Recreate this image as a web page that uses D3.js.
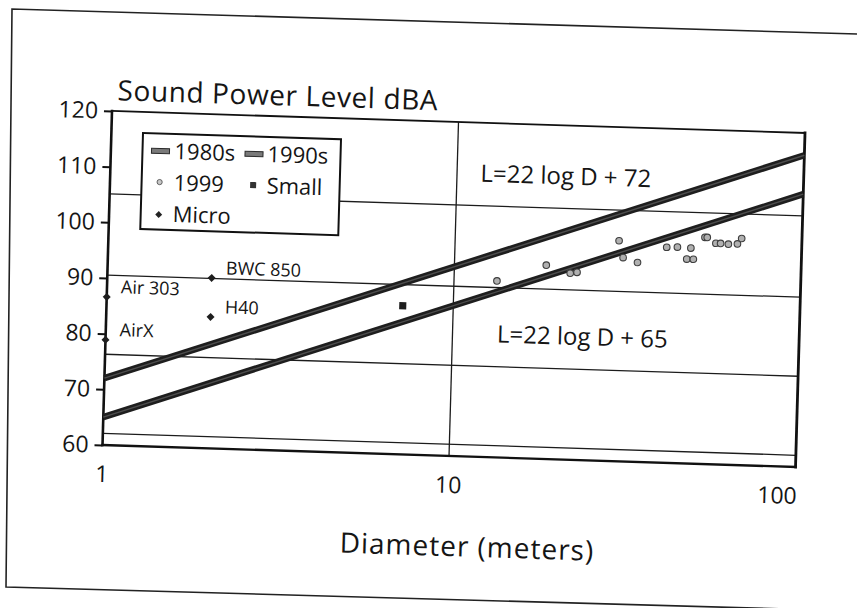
<!DOCTYPE html>
<meta charset="utf-8">
<style>

body { margin: 0; background: #fff; }

.chart text {
  font-family: "Open Sans", sans-serif;
  fill: #151515;
}

.grid line {
  stroke: #1c1c1c;
  stroke-width: 1.3;
}

.axis path.domain { display: none; }

.axis line {
  stroke: #111;
  stroke-width: 2;
}

.axis text {
  font: 23px "Open Sans", sans-serif;
}

</style>

<svg class="chart"></svg>

<script src="https://cdn.jsdelivr.net/npm/d3@7"></script>

<script>

// values
var yTicks = [60, 70, 80, 90, 100, 110, 120];
var xTicks = [1, 10, 100];
var gridValues = [62.1, 76.3, 90.5, 105.1];

var trendD = [1, 100];
var trend1980s = [72, 116];
var trend1990s = [65, 109];

var d1999 = [13.3, 18.4, 21.6, 22.6, 29.7, 30.6, 33.7, 40.8, 43.8, 47.9, 46.7, 48.8, 52.5, 53.3, 56.5, 58.3, 61.4, 65.2, 67.0];
var l1999 = [91.7, 94.8, 93.5, 93.7, 99.6, 96.6, 95.8, 98.7, 98.8, 98.7, 96.7, 96.7, 100.7, 100.7, 99.7, 99.7, 99.6, 99.7, 100.7];

var smallD = [7.15];
var smallL = [86.7];

var microNames = ["AirX", "Air 303", "H40", "BWC 850"];
var microD = [1, 1, 2, 2];
var microL = [78.9, 86.6, 83.6, 90.6];

var eqLabels = ["L=22 log D + 72", "L=22 log D + 65"];

var W = 693, H = 334;

var svg = d3.select(".chart")
	.attr("width", 857)
	.attr("height", 608)

svg.append("rect")
	.attr("width", 857)
	.attr("height", 608)
	.attr("fill", "#fff")

// outer page frame of the scan
svg.append("path")
	.attr("d", "M857,34L12,9L6,587L857,611")
	.attr("fill", "none")
	.attr("stroke", "#222")
	.attr("stroke-width", 1.6)

// the scan is slightly skewed, so the whole plot sits in a tilted group
var chart = svg.append("g")
	.attr("transform", "matrix(1,0.0317,-0.0284,1,112,111)")

var x = d3.scaleLog()
	.domain([1, 100])
	.range([0, W])

var y = d3.scaleLinear()
	.domain([60, 120])
	.range([H, 0])

var grid = chart.append("g").attr("class", "grid")

grid.selectAll(".h")
	.data(gridValues)
  .enter().append("line")
	.attr("class", "h")
	.attr("x1", 0).attr("x2", W)
	.attr("y1", function(d) { return y(d); })
	.attr("y2", function(d) { return y(d); })

grid.append("line")
	.attr("x1", x(10)).attr("x2", x(10))
	.attr("y1", 0).attr("y2", H)

// plot frame
function edge(x1, y1, x2, y2, w) {
	chart.append("line")
		.attr("x1", x1).attr("y1", y1).attr("x2", x2).attr("y2", y2)
		.attr("stroke", "#111")
		.attr("stroke-width", w)
		.attr("stroke-linecap", "square")
}
edge(0, 0, W, 0, 1.8)
edge(W, 0, W, H, 2.8)
edge(0, H, W, H, 2.4)
edge(0, 0, 0, H, 2.6)

var yAxis = d3.axisLeft(y)
	.tickValues(yTicks)
	.tickSize(8)
	.tickPadding(6)

chart.append("g")
	.attr("class", "y axis")
	.call(yAxis)

chart.append("g")
	.attr("class", "x axis")
	.selectAll("text")
	.data(xTicks)
  .enter().append("text")
	.attr("x", function(d, i) { return i == xTicks.length - 1 ? x(d) + 2 : x(d); })
	.attr("y", H + 37)
	.attr("text-anchor", function(d, i) { return i == xTicks.length - 1 ? "end" : "middle"; })
	.text(function(d) { return d; })

// trend lines
var line = d3.line()
	.x(function(d) { return x(d[0]); })
	.y(function(d) { return y(d[1]); })

;[trend1980s, trend1990s].forEach(function(vals) {
	var pts = trendD.map(function(d, i) { return [d, vals[i]]; });
	chart.append("path")
		.attr("d", line(pts))
		.attr("fill", "none")
		.attr("stroke", "#1e1e1e")
		.attr("stroke-width", 6.5)
	chart.append("path")
		.attr("d", line(pts))
		.attr("fill", "none")
		.attr("stroke", "#4e4e4e")
		.attr("stroke-width", 1.4)
})

// 1999 turbines
chart.selectAll(".p1999")
	.data(d1999)
  .enter().append("circle")
	.attr("class", "p1999")
	.attr("cx", function(d) { return x(d); })
	.attr("cy", function(d, i) { return y(l1999[i]); })
	.attr("r", 3.3)
	.attr("fill", "#b0b0b0")
	.attr("stroke", "#3e3e3e")
	.attr("stroke-width", 1.1)

// small
chart.selectAll(".small")
	.data(smallD)
  .enter().append("path")
	.attr("class", "small")
	.attr("d", d3.symbol().type(d3.symbolSquare).size(50))
	.attr("transform", function(d, i) { return "translate(" + x(d) + "," + y(smallL[i]) + ")"; })
	.attr("fill", "#1e1e1e")

// micro
var micro = chart.selectAll(".micro")
	.data(microD)
  .enter().append("g")
	.attr("class", "micro")
	.attr("transform", function(d, i) { return "translate(" + x(d) + "," + y(microL[i]) + ")"; })

micro.append("path")
	.attr("d", d3.symbol().type(d3.symbolSquare).size(32))
	.attr("transform", "rotate(45)")
	.attr("fill", "#1e1e1e")

micro.append("text")
	.attr("x", 14)
	.attr("y", -4)
	.style("font-size", "18px")
	.text(function(d, i) { return microNames[i]; })

// equation labels
chart.append("text")
	.attr("x", 370).attr("y", 59)
	.style("font-size", "24px")
	.text(eqLabels[0])

chart.append("text")
	.attr("x", 391).attr("y", 219)
	.style("font-size", "24px")
	.text(eqLabels[1])

// titles
chart.append("text")
	.attr("x", 5).attr("y", -11)
	.style("font-size", "28px")
	.style("letter-spacing", "0.6px")
	.text("Sound Power Level dBA")

chart.append("text")
	.attr("x", 367).attr("y", 434)
	.attr("text-anchor", "middle")
	.style("font-size", "28px")
	.style("letter-spacing", "1px")
	.text("Diameter (meters)")

// legend
var legend = chart.append("g")
	.attr("transform", "translate(31.6,21)")

legend.append("rect")
	.attr("width", 198)
	.attr("height", 96)
	.attr("fill", "#fff")
	.attr("stroke", "#111")
	.attr("stroke-width", 2)

var legendItems = [
	{label: "1980s", type: "bar", col: 0, row: 0},
	{label: "1990s", type: "bar", col: 1, row: 0},
	{label: "1999", type: "circle", col: 0, row: 1},
	{label: "Small", type: "square", col: 1, row: 1},
	{label: "Micro", type: "diamond", col: 0, row: 2}
]

var item = legend.selectAll(".item")
	.data(legendItems)
  .enter().append("g")
	.attr("class", "item")
	.attr("transform", function(d) { return "translate(" + (d.col ? 111.5 : 18) + "," + (25 + d.row * 31.5) + ")"; })

item.filter(function(d) { return d.type == "bar"; })
  .append("rect")
	.attr("x", -9).attr("y", -10)
	.attr("width", 18).attr("height", 5)
	.attr("fill", "#7a7a7a")
	.attr("stroke", "#2a2a2a")
	.attr("stroke-width", 1)

item.filter(function(d) { return d.type == "circle"; })
  .append("circle")
	.attr("cy", -8)
	.attr("r", 2.6)
	.attr("fill", "#c8c8c8")
	.attr("stroke", "#555")
	.attr("stroke-width", 0.9)

item.filter(function(d) { return d.type == "square"; })
  .append("path")
	.attr("d", d3.symbol().type(d3.symbolSquare).size(36))
	.attr("transform", "translate(0,-8)")
	.attr("fill", "#333")

item.filter(function(d) { return d.type == "diamond"; })
  .append("path")
	.attr("d", d3.symbol().type(d3.symbolSquare).size(24))
	.attr("transform", "translate(0,-7) rotate(45)")
	.attr("fill", "#222")

item.append("text")
	.attr("x", function(d) { return d.col ? 13.5 : 14; })
	.style("font-size", "22px")
	.text(function(d) { return d.label; })

</script>
